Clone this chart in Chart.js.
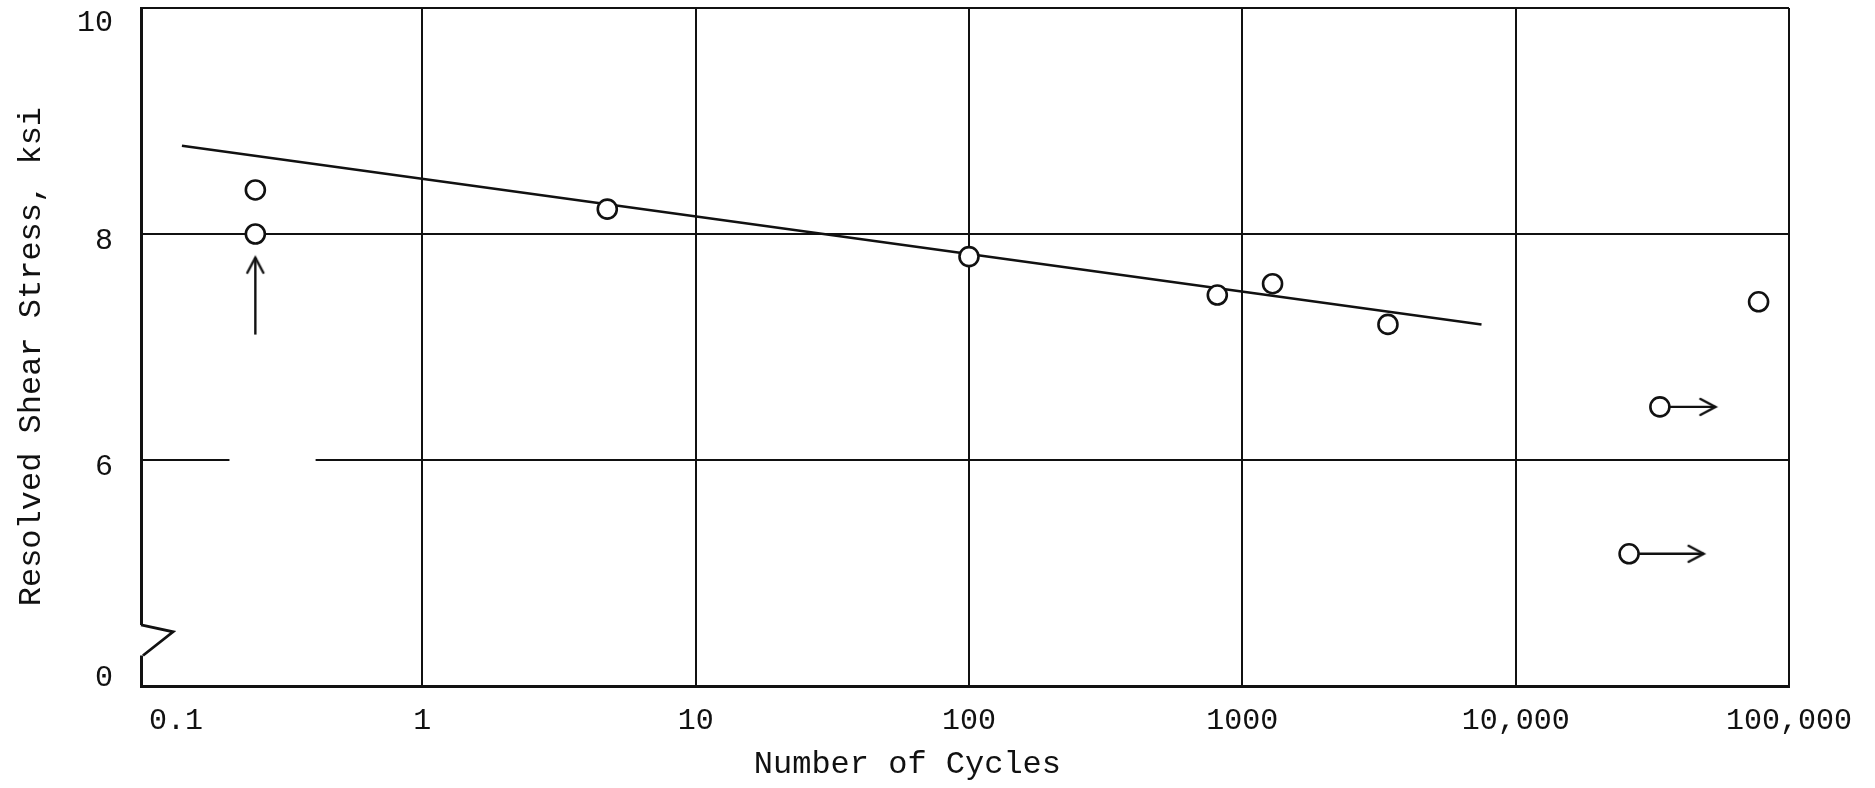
<!DOCTYPE html>
<html>
<head>
<meta charset="utf-8">
<script src="https://cdn.jsdelivr.net/npm/chart.js@4"></script>
<style>
  body { margin: 0; background: #fff; }
  #wrap { width: 1875px; height: 788px; }
</style>
</head>
<body>
<div id="wrap"><canvas id="grafica"></canvas></div>
<script>
// ticks
const xTickValues = [0.1, 1, 10, 100, 1000, 10000, 100000];
const xTickLabels = ["   0.1", "1", "10", "100", "1000", "10,000", "100,000"];
const yTickValues = [4, 6, 8, 10];          // axis is broken below 6, bottom reads "0"
const yTickLabels = ["0", "6", "8", "10"];

// test points
const cycles = [0.245, 0.245, 4.75, 100, 810, 1290, 3410, 77400, 33700, 26000];
const stress = [8.39, 8.0, 8.22, 7.80, 7.46, 7.56, 7.20, 7.40, 6.47, 5.17];

// fitted line
const fitCycles = [0.132, 7500];
const fitStress = [8.78, 7.20];

// arrows (start, tip)
const arrowCycles = [[0.245, 0.245], [36500, 53800], [28300, 48700]];
const arrowStress = [[7.11, 7.79], [6.47, 6.47], [5.17, 5.17]];
const arrowAngle = [-90, 0, 0];

// gap in the 6 ksi line and axis break marks
const gridGap = [0.197, 0.407];
const breakMark = { top: 4.54, tip: 4.48, bottom: 4.27, tipX: 0.1225 };

const tinta = "#111";
const fuente = "'Liberation Mono', 'DejaVu Sans Mono', monospace";

// open arrowhead drawn once, tip at the centre
const punta = document.createElement("canvas");
punta.width = 40; punta.height = 40;
(function () {
  const c = punta.getContext("2d");
  c.strokeStyle = tinta;
  c.lineWidth = 2.5;
  c.lineCap = "round";
  c.beginPath();
  c.moveTo(5, 12);
  c.lineTo(20, 20);
  c.lineTo(5, 28);
  c.stroke();
})();

const datasets = [{
  label: "puntos",
  data: cycles.map((c, i) => ({ x: c, y: stress[i] })),
  showLine: false,
  pointRadius: 9.5,
  pointBorderWidth: 2.6,
  pointBackgroundColor: "#fff",
  pointBorderColor: tinta,
  order: 0
}, {
  label: "ajuste",
  data: fitCycles.map((c, i) => ({ x: c, y: fitStress[i] })),
  showLine: true,
  borderColor: tinta,
  borderWidth: 2.5,
  pointRadius: 0,
  order: 2
}];

arrowCycles.forEach((par, k) => {
  datasets.push({
    label: "flecha" + k,
    data: par.map((c, i) => ({ x: c, y: arrowStress[k][i] })),
    showLine: true,
    borderColor: tinta,
    borderWidth: 2.4,
    pointStyle: ctx => ctx.dataIndex === 1 ? punta : false,
    pointRotation: arrowAngle[k],
    order: 1
  });
});

const extras = {
  id: "extras",
  afterDraw(chart) {
    const { ctx, chartArea, scales: { x, y } } = chart;
    ctx.save();
    // broken grid line at 6
    const y6 = y.getPixelForValue(6);
    const g0 = x.getPixelForValue(gridGap[0]);
    const g1 = x.getPixelForValue(gridGap[1]);
    ctx.fillStyle = "#fff";
    ctx.fillRect(g0, y6 - 3, g1 - g0, 6);

    // zigzag on the left axis
    const left = chartArea.left;
    const yT = y.getPixelForValue(breakMark.top);
    const yM = y.getPixelForValue(breakMark.tip);
    const yB = y.getPixelForValue(breakMark.bottom);
    ctx.fillRect(left - 4, yT, 8, yB - yT);
    ctx.strokeStyle = tinta;
    ctx.lineWidth = 2.8;
    ctx.beginPath();
    ctx.moveTo(left, yT);
    ctx.lineTo(x.getPixelForValue(breakMark.tipX), yM);
    ctx.lineTo(left + 2, yB);
    ctx.stroke();
    ctx.restore();
  }
};

new Chart(document.getElementById("grafica"), {
  type: "scatter",
  data: { datasets },
  plugins: [extras],
  options: {
    responsive: true,
    maintainAspectRatio: false,
    animation: false,
    events: [],
    layout: { autoPadding: false, padding: { top: 8, right: 86, left: 0, bottom: 0 } },
    plugins: { legend: { display: false }, tooltip: { enabled: false } },
    scales: {
      x: {
        type: "logarithmic",
        min: 0.0935,
        max: 100000,
        afterBuildTicks: s => { s.ticks = xTickValues.map(v => ({ value: v })); },
        afterFit: s => { s.height = 102; },
        ticks: {
          autoSkip: false,
          maxRotation: 0,
          padding: 17,
          color: tinta,
          font: { family: fuente, size: 30 },
          callback: v => {
            const i = xTickValues.indexOf(v);
            return i >= 0 ? xTickLabels[i] : "";
          }
        },
        grid: {
          drawTicks: false,
          lineWidth: 2,
          color: c => (c.tick && c.tick.value === 0.1) ? "rgba(0,0,0,0)" : tinta
        },
        border: { display: true, color: tinta, width: 3 },
        title: {
          display: true,
          text: "Number of Cycles      ",
          color: tinta,
          font: { family: fuente, size: 32 },
          padding: { top: 0, bottom: 4 }
        }
      },
      y: {
        min: 4,
        max: 10,
        afterBuildTicks: s => { s.ticks = yTickValues.map(v => ({ value: v })); },
        afterFit: s => { s.width = 141; s.paddingTop = 0; s.paddingBottom = 0; },
        ticks: {
          padding: 0,
          color: tinta,
          font: { family: fuente, size: 30, lineHeight: 0.5 },
          // labels sit a little below their line, the bottom "0" a little above
          callback: v => {
            const i = yTickValues.indexOf(v);
            if (i < 0) return "";
            if (i === 0) return [yTickLabels[i], ""];
            if (i === yTickValues.length - 1) return ["", "", yTickLabels[i]];
            return ["", yTickLabels[i]];
          }
        },
        grid: {
          drawTicks: true,
          tickLength: 28,
          tickColor: "rgba(0,0,0,0)",
          lineWidth: 2,
          color: tinta
        },
        border: { display: true, color: tinta, width: 3 },
        title: {
          display: true,
          text: "Resolved Shear Stress, ksi ",
          color: tinta,
          font: { family: fuente, size: 32 },
          padding: { top: 12, bottom: 0 }
        }
      }
    }
  }
});
</script>
</body>
</html>
